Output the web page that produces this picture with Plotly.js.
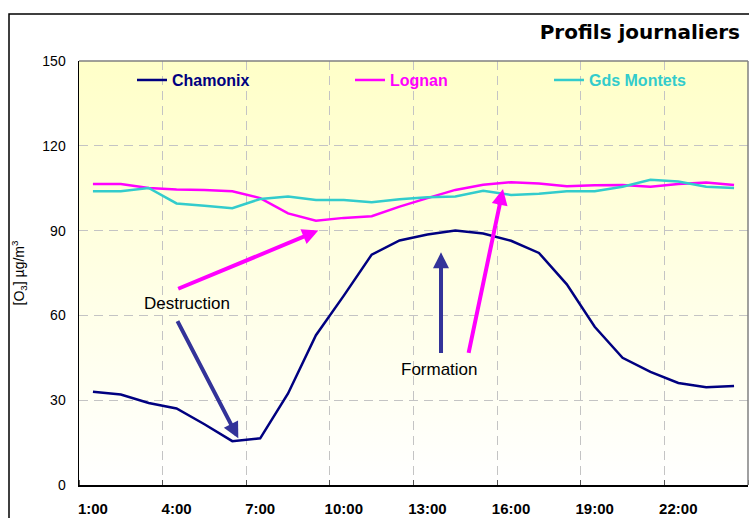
<!DOCTYPE html>
<html>
<head>
<meta charset="utf-8">
<script src="https://cdn.plot.ly/plotly-3.0.1.min.js"></script>
<style>
html,body{margin:0;padding:0;background:#fff;}
#chart{width:749px;height:518px;}
</style>
</head>
<body>
<div id="chart"></div>
<script>
// ---- data ----
const hourIndex = [1,2,3,4,5,6,7,8,9,10,11,12,13,14,15,16,17,18,19,20,21,22,23,24];
const tickPositions = [1,4,7,10,13,16,19,22];
const tickLabels = ['1:00','4:00','7:00','10:00','13:00','16:00','19:00','22:00'];
const chamonix = [33, 32, 29, 27.1, 21.5, 15.5, 16.5, 32.4, 53, 67, 81.5, 86.5, 88.6, 90, 89, 86.4, 82.1, 71, 56, 45, 40, 36.1, 34.6, 35];
const lognan = [106.5, 106.5, 105.1, 104.5, 104.4, 103.9, 101.5, 96.1, 93.5, 94.5, 95.1, 98.5, 101.5, 104.4, 106.2, 107.1, 106.7, 105.7, 106, 106.1, 105.5, 106.5, 107, 106.1];
const gdsMontets = [103.9, 103.9, 105.1, 99.6, 98.8, 97.9, 101.2, 102.1, 100.8, 100.8, 100, 101.1, 101.8, 102.1, 104.1, 102.6, 103, 103.9, 103.9, 105.5, 108, 107.4, 105.5, 105.1];
const seriesNames = ['Chamonix', 'Lognan', 'Gds Montets'];

const C_NAVY = '#000080', C_MAG = '#FF00FF', C_CYAN = '#33CCCC', C_ARROW = '#333399';

const traces = [
  {x: hourIndex, y: chamonix, name: seriesNames[0], type: 'scatter', mode: 'lines',
   line: {color: C_NAVY, width: 2.5}, legend: 'legend'},
  {x: hourIndex, y: lognan, name: seriesNames[1], type: 'scatter', mode: 'lines',
   line: {color: C_MAG, width: 2.5}, legend: 'legend2'},
  {x: hourIndex, y: gdsMontets, name: seriesNames[2], type: 'scatter', mode: 'lines',
   line: {color: C_CYAN, width: 2.5}, legend: 'legend3'}
];

const svgGrad = '<svg xmlns="http://www.w3.org/2000/svg" width="100" height="100" preserveAspectRatio="none">' +
  '<defs><linearGradient id="g" x1="0" y1="0" x2="0" y2="1">' +
  '<stop offset="0" stop-color="#FFFFC8"/><stop offset="1" stop-color="#FFFFFF"/>' +
  '</linearGradient></defs><rect width="100" height="100" fill="url(#g)"/></svg>';
const gradSrc = 'data:image/svg+xml;charset=utf-8,' + encodeURIComponent(svgGrad);

const legendBase = (x, color) => ({
  x: x, xanchor: 'left', y: 0.955, yanchor: 'middle', orientation: 'h',
  bgcolor: 'rgba(0,0,0,0)', borderwidth: 0,
  font: {family: 'Liberation Sans, Arial, sans-serif', size: 16, color: color, weight: 'bold'}
});

const gridDash = '9px,6px';
const layout = {
  width: 749, height: 518,
  margin: {l: 79, r: 1, t: 61, b: 33},
  paper_bgcolor: '#FFFFFF',
  plot_bgcolor: 'rgba(0,0,0,0)',
  title: {
    text: '<b>Profils journaliers</b>',
    font: {family: 'DejaVu Sans, Verdana, sans-serif', size: 20, color: '#000'},
    xref: 'container', yref: 'container', x: 740/749, xanchor: 'right',
    y: 1 - 32/518, yanchor: 'middle'
  },
  showlegend: true,
  legend: legendBase(0.0792, C_NAVY),
  legend2: legendBase(0.4051, C_MAG),
  legend3: legendBase(0.7025, C_CYAN),
  xaxis: {
    range: [0.5, 24.5], tickmode: 'array', tickvals: tickPositions, ticktext: tickLabels,
    ticks: '', showgrid: false, zeroline: false,
    showline: true, linecolor: '#000', linewidth: 1.5,
    ticklabelstandoff: 9,
    tickfont: {family: 'Liberation Sans, Arial, sans-serif', size: 15, color: '#000', weight: 'bold'},
    minor: {tickmode: 'linear', tick0: 0.5, dtick: 3, ticks: 'inside', ticklen: 5, tickcolor: '#555', tickwidth: 1,
            showgrid: true, gridcolor: '#C4C4C4', gridwidth: 1, griddash: gridDash},
    fixedrange: true
  },
  yaxis: {
    range: [0, 150], tickmode: 'linear', tick0: 0, dtick: 30,
    ticks: '', showgrid: true, gridcolor: '#C4C4C4', gridwidth: 1, griddash: gridDash,
    zeroline: false, showline: true, linecolor: '#000', linewidth: 1.5,
    ticklabelstandoff: 9,
    tickfont: {family: 'Liberation Sans, Arial, sans-serif', size: 14, color: '#000'},
    title: {text: '[O<sub>3</sub>] µg/m<sup>3</sup>', standoff: 14,
            font: {family: 'Liberation Sans, Arial, sans-serif', size: 14, color: '#000'}},
    fixedrange: true
  },
  images: [{source: gradSrc, xref: 'paper', yref: 'paper', x: 0, y: 1, sizex: 1, sizey: 1,
            sizing: 'stretch', xanchor: 'left', yanchor: 'top', layer: 'below'}],
  shapes: [
    {type: 'line', xref: 'paper', yref: 'paper', x0: 0, x1: 1, y0: 1, y1: 1, line: {color: '#808080', width: 1.5}},
    {type: 'line', xref: 'paper', yref: 'paper', x0: 1, x1: 1, y0: 0, y1: 1, line: {color: '#808080', width: 1.5}},
    {type: 'rect', xref: 'paper', yref: 'paper', x0: (9-79)/669, x1: 1.3, y0: -0.3, y1: (485-14)/424,
     line: {color: '#000', width: 1.5}, fillcolor: 'rgba(0,0,0,0)'}
  ],
  annotations: [
    {x: 9.085, y: 90.0, ax: 4.005, ay: 69.2, xref: 'x', yref: 'y', axref: 'x', ayref: 'y',
     text: '', showarrow: true, arrowhead: 2, arrowsize: 0.8, arrowwidth: 4, arrowcolor: C_MAG, standoff: 0, startstandoff: 0},
    {x: 6.215, y: 16.5, ax: 4.005, ay: 58.5, xref: 'x', yref: 'y', axref: 'x', ayref: 'y',
     text: '', showarrow: true, arrowhead: 2, arrowsize: 0.8, arrowwidth: 4, arrowcolor: C_ARROW, standoff: 0, startstandoff: 0},
    {x: 13.487, y: 82.3, ax: 13.487, ay: 46.2, xref: 'x', yref: 'y', axref: 'x', ayref: 'y',
     text: '', showarrow: true, arrowhead: 2, arrowsize: 0.8, arrowwidth: 4, arrowcolor: C_ARROW, standoff: 0, startstandoff: 0},
    {x: 15.71, y: 104.7, ax: 14.466, ay: 46.2, xref: 'x', yref: 'y', axref: 'x', ayref: 'y',
     text: '', showarrow: true, arrowhead: 2, arrowsize: 0.8, arrowwidth: 4, arrowcolor: C_MAG, standoff: 0, startstandoff: 0},
    {x: 4.364, y: 64.1, xref: 'x', yref: 'y', text: 'Destruction', showarrow: false,
     font: {family: 'Liberation Sans, Arial, sans-serif', size: 17, color: '#000'}},
    {x: 13.45, y: 40.9, xref: 'x', yref: 'y', text: 'Formation', showarrow: false,
     font: {family: 'Liberation Sans, Arial, sans-serif', size: 17, color: '#000'}}
  ]
};

Plotly.newPlot('chart', traces, layout, {displayModeBar: false, staticPlot: true});
</script>
</body>
</html>
